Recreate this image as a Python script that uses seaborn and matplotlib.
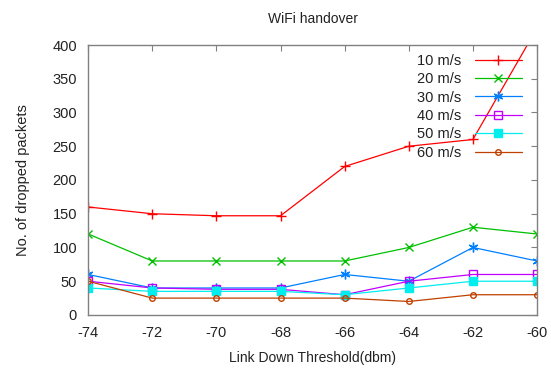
import pandas as pd
import matplotlib.pyplot as plt
import seaborn as sns

# x ekseni: link down esik degeri
thresholds = [-74, -72, -70, -68, -66, -64, -62, -60]

speed_labels = ['10 m/s', '20 m/s', '30 m/s', '40 m/s', '50 m/s', '60 m/s']
drops_10 = [160, 150, 147, 147, 220, 250, 260, 425]
drops_20 = [120, 80, 80, 80, 80, 100, 130, 120]
drops_30 = [60, 40, 40, 40, 60, 50, 100, 80]
drops_40 = [50, 40, 38, 38, 30, 50, 60, 60]
drops_50 = [40, 35, 35, 35, 30, 40, 50, 50]
drops_60 = [50, 25, 25, 25, 25, 20, 30, 30]

all_drops = [drops_10, drops_20, drops_30, drops_40, drops_50, drops_60]

# gnuplot varsayilan renkleri ve isaretleri
colors = ['#ff0000', '#00c000', '#0080ff', '#c000ff', '#00eeee', '#c04000']
markers = ['+', 'x', (6, 2, 0), 's', 's', 'o']
filled = [True, True, True, False, True, False]
msizes = [7, 6, 7, 6, 6, 4]

rows = []
for lab, vals in zip(speed_labels, all_drops):
    for t, v in zip(thresholds, vals):
        rows.append({'threshold': t, 'drops': v, 'speed': lab})
df = pd.DataFrame(rows)

sns.set_style('white')
plt.rcParams['font.family'] = ['Liberation Sans', 'DejaVu Sans']
plt.rcParams['axes.unicode_minus'] = False

fig = plt.figure(figsize=(5.51, 3.71), dpi=100)
ax = fig.add_axes([0.16, 0.151, 0.8146, 0.7277])

for i, lab in enumerate(speed_labels):
    sub = df[df['speed'] == lab]
    mfc = colors[i] if filled[i] else 'none'
    sns.lineplot(data=sub, x='threshold', y='drops', ax=ax, color=colors[i],
                 marker=markers[i], markersize=msizes[i], markerfacecolor=mfc,
                 markeredgecolor=colors[i], markeredgewidth=1.0,
                 linewidth=0.9, label=lab)

ax.set_xlim(-74, -60)
ax.set_ylim(0, 400)
ax.set_xticks(thresholds)
ax.set_yticks(range(0, 401, 50))
ax.tick_params(direction='in', length=4, width=0.8, color='#808080',
               top=True, right=True, labelsize=10.5, pad=8, labelcolor='#222222')
for s in ax.spines.values():
    s.set_color('#808080')
    s.set_linewidth(1.0)

ax.set_xlabel('Link Down Threshold(dbm)', fontsize=10, color='#222222', labelpad=8)
ax.set_ylabel('No. of dropped packets', fontsize=10.5, color='#222222', labelpad=16)
ax.set_title('WiFi handover', fontsize=10, color='#222222', pad=16)

leg = ax.legend(loc='upper right', bbox_to_anchor=(0.985, 1.0), frameon=False,
                markerfirst=False, fontsize=10.5, handlelength=3.2,
                labelspacing=0.3, handletextpad=0.9, borderaxespad=0.2)
for t in leg.get_texts():
    t.set_color('#222222')

fig.savefig('out.png', dpi=100)
